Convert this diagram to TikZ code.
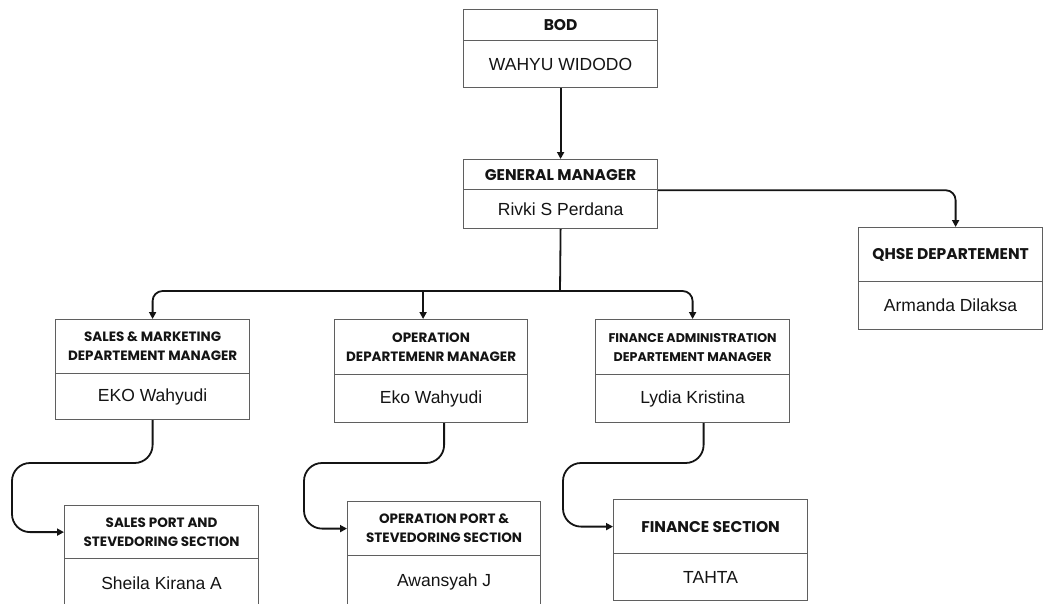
\documentclass[tikz,border=0pt]{standalone}
\usepackage{fontspec}
\setmainfont{Liberation Sans}
\newfontfamily\titlefont{Poppins}
\usetikzlibrary{arrows.meta}
\definecolor{boxgray}{RGB}{95,95,95}
\definecolor{ink}{RGB}{20,20,20}
\tikzset{
  boxpart/.style={draw=boxgray, line width=1.2pt, inner sep=0pt, anchor=north west, align=center, text=ink},
  bigtitle/.style={font=\titlefont\bfseries\fontsize{15.5}{18}\selectfont},
  smalltitle/.style={font=\titlefont\bfseries\fontsize{13.5}{19}\selectfont},
  narrowtitle/.style={font=\titlefont\bfseries\fontsize{12.6}{19}\selectfont},
  person/.style={font=\fontsize{17.5}{20}\selectfont},
  conn/.style={draw=ink, line width=1.8pt, -{Triangle[length=7pt,width=7pt]}},
  bus/.style={draw=ink, line width=1.8pt},
}
\newcommand\orgbox[9]{%
  \pgfmathsetmacro\bw{#3-#2}%
  \pgfmathsetmacro\ha{#5-#4}%
  \pgfmathsetmacro\hb{#6-#5}%
  \node[boxpart, #9, minimum width=\bw pt, minimum height=\ha pt] (#1-t) at (#2,#4) {#7};
  \node[boxpart, person, minimum width=\bw pt, minimum height=\hb pt] (#1-p) at (#2,#5) {#8};
}
\begin{document}
\begin{tikzpicture}[x=1pt,y=-1pt]
\useasboundingbox (0,0) rectangle (1043,603);
\clip (0,0) rectangle (1043,603);
\fill[white] (0,0) rectangle (1043,603);
\orgbox{bod}{463}{657}{9}{40}{87}{BOD}{WAHYU WIDODO}{bigtitle}
\orgbox{gm}{463}{657}{159}{189}{228}{GENERAL MANAGER}{Rivki S Perdana}{bigtitle}
\orgbox{qhse}{858}{1042}{227}{281}{329}{QHSE DEPARTEMENT}{Armanda Dilaksa}{bigtitle}
\orgbox{sales}{55}{249}{319}{373}{419}{SALES \& MARKETING\\DEPARTEMENT MANAGER}{EKO Wahyudi}{smalltitle}
\orgbox{op}{334}{527}{319}{374}{422}{OPERATION\\DEPARTEMENR MANAGER}{Eko Wahyudi}{smalltitle}
\orgbox{fin}{595}{789}{319}{374}{422}{FINANCE ADMINISTRATION\\DEPARTEMENT MANAGER}{Lydia Kristina}{narrowtitle}
\orgbox{sport}{64}{258}{505}{558}{608}{SALES PORT AND\\STEVEDORING SECTION}{Sheila Kirana A}{smalltitle}
\orgbox{oport}{347}{540}{501}{555}{608}{OPERATION PORT \&\\STEVEDORING SECTION}{Awansyah J}{smalltitle}
\orgbox{fsec}{613}{807}{499}{553}{600}{FINANCE SECTION}{TAHTA}{bigtitle}

\draw[conn] (bod-p.south) -- (gm-t.north);
\draw[conn, rounded corners=10pt] (gm-t.south east) -| ([xshift=5pt]qhse-t.north);
\coordinate (busc) at (560,291);
\draw[bus] (gm-p.south) -- (busc);
\draw[conn, rounded corners=10pt] (busc) -| (sales-t.north);
\draw[conn, rounded corners=10pt] (busc) -| (fin-t.north);
\draw[conn] ([xshift=-8pt]op-t.north |- busc) -- ([xshift=-8pt]op-t.north);

\coordinate (s1) at (12,463);
\coordinate (o1) at (304,463);
\coordinate (f1) at (563,463);
\draw[conn, rounded corners=18pt] (sales-p.south) |- (s1) |- (sport-t.west);
\draw[conn, rounded corners=18pt] ([xshift=13pt]op-p.south) |- (o1) |- (oport-t.west);
\draw[conn, rounded corners=18pt] ([xshift=11pt]fin-p.south) |- (f1) |- (fsec-t.west);
\end{tikzpicture}
\end{document}
